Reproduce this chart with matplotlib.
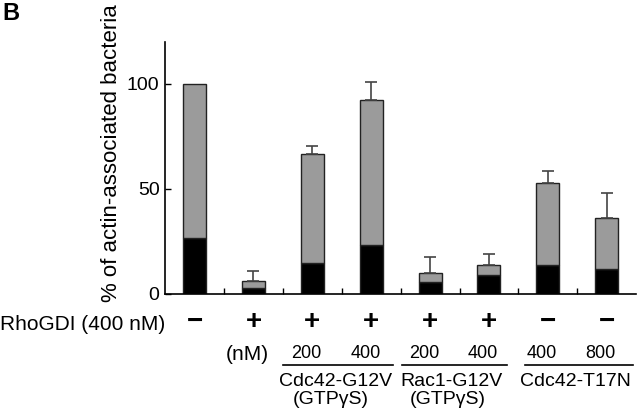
import numpy as np
import matplotlib
matplotlib.use('Agg')
from matplotlib import pyplot as plt
from matplotlib import transforms

plt.rcParams['font.family'] = ['Liberation Sans', 'DejaVu Sans']

# values (% of actin-associated bacteria)
total = [100, 6.2, 66.8, 92.5, 10.0, 13.6, 52.9, 36.3]
black_part = [26.7, 2.7, 14.8, 23.5, 5.7, 9.0, 13.6, 11.9]
err_up = [0, 4.8, 3.8, 8.3, 7.8, 5.3, 5.5, 11.8]
rhogdi = ['−', '+', '+', '+', '+', '+', '−', '−']
conc = ['', '(nM)', '200', '400', '200', '400', '400', '800']
groups = [('Cdc42-G12V', '(GTPγS)'), ('Rac1-G12V', '(GTPγS)'), ('Cdc42-T17N', '')]
group_spans = [(1.51, 3.37), (3.53, 5.30), (5.61, 7.44)]

x = np.arange(len(total))

fig = plt.figure(figsize=(6.4, 4.16), dpi=100)
ax = fig.add_axes([0.258, 0.2933, 0.736, 0.6058])

gray = np.array(total) - np.array(black_part)
ax.bar(x, black_part, width=0.39, color='black', edgecolor='#222222', linewidth=1)
ax.bar(x, gray, bottom=black_part, width=0.39, color='#9b9b9b', edgecolor='#222222', linewidth=1)
# only bars that have an error bar
has_err = np.array(err_up) > 0
ax.errorbar(x[has_err], np.array(total)[has_err],
            yerr=[np.zeros(has_err.sum()), np.array(err_up)[has_err]], fmt='none',
            ecolor='#444444', elinewidth=1.2, capsize=4, capthick=1.2)

ax.set_xlim(-0.5, 7.5)
ax.set_ylim(0, 120)
ax.set_yticks([0, 50, 100])
ax.set_xticks(np.arange(0.5, 7.0, 1.0))
ax.set_xticklabels([])
ax.tick_params(axis='both', direction='in', length=4, width=1)
ax.tick_params(axis='y', labelsize=14, pad=4)
for s in ['top', 'right']:
    ax.spines[s].set_visible(False)
for s in ['left', 'bottom']:
    ax.spines[s].set_linewidth(1.2)

fig.text(112 / 640, 1 - 153 / 416, '% of actin-associated bacteria', rotation=90,
         ha='center', va='center', fontsize=16)
fig.text(0.003, 1 - 2 / 416, 'B', fontsize=17, fontweight='bold', ha='left', va='top')

tr = transforms.blended_transform_factory(ax.transData, fig.transFigure)

def fy(py):
    return 1 - py / 416

ax.text(-0.5, fy(324), 'RhoGDI (400 nM)', transform=tr, ha='right', va='center',
        fontsize=15, clip_on=False)
for xi, sign in zip(x, rhogdi):
    ax.text(xi, fy(322), sign, transform=tr, ha='center', va='center',
            fontsize=20, fontweight='bold', clip_on=False)
for xi, c in zip(x, conc):
    if c == '(nM)':
        ax.text(xi - 0.1, fy(355), c, transform=tr, ha='center', va='center',
                fontsize=15, clip_on=False)
    elif c:
        ax.text(xi - 0.1, fy(354), c, transform=tr, ha='center', va='center',
                fontsize=13, clip_on=False)
for (name, sub), (a, b) in zip(groups, group_spans):
    ax.plot([a, b], [fy(365), fy(365)], transform=tr, color='black', lw=1.2, clip_on=False)
    mid = (a + b) / 2 - 0.05
    ax.text(mid, fy(381), name, transform=tr, ha='center', va='center',
            fontsize=14, clip_on=False)
    if sub:
        ax.text(mid - 0.07, fy(399), sub, transform=tr, ha='center', va='center',
                fontsize=14, clip_on=False)

fig.savefig('out.png', dpi=100)
